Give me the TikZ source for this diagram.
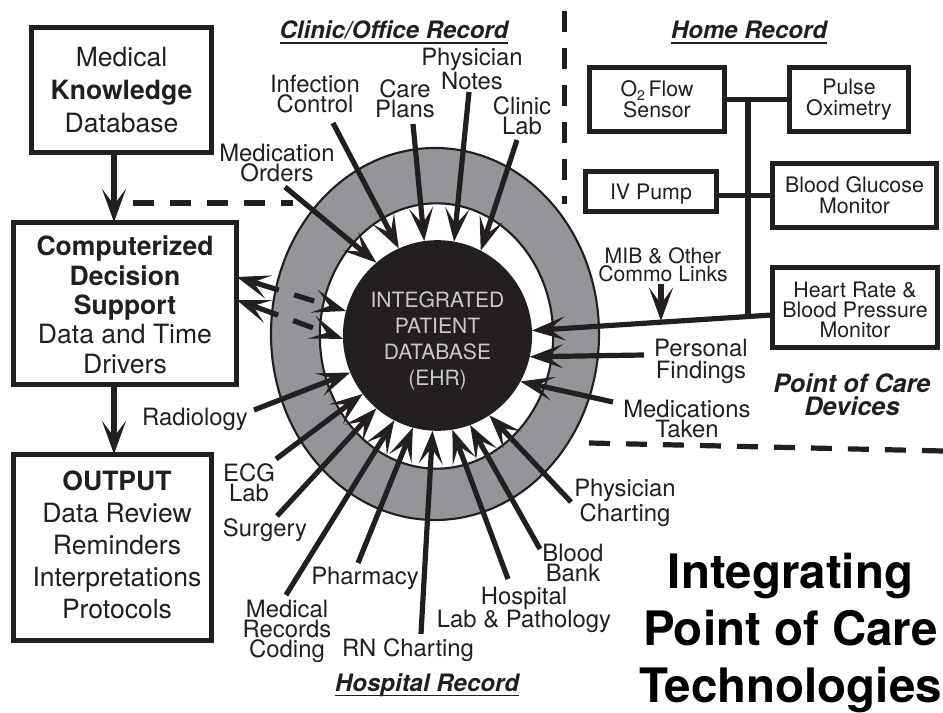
\documentclass[tikz,border=0pt]{standalone}
\usepackage{fontspec}
\setmainfont{TeX Gyre Heros}
\usetikzlibrary{arrows.meta,shapes.geometric}
\normallineskiplimit=-100pt
\definecolor{ink}{HTML}{231F20}
\definecolor{ringgrey}{HTML}{939598}
\definecolor{dbtext}{HTML}{C8C8CA}
\tikzset{
  lbl/.style={inner sep=0pt,outer sep=0pt,align=center,text=ink,font=\fontsize{17.9}{15}\selectfont},
  heading/.style={inner sep=0pt,outer sep=0pt,align=center,text=ink,font=\fontsize{18}{18}\selectfont\bfseries\itshape},
  boxbase/.style={draw=ink,line width=3.9pt,fill=white,inner sep=0pt,outer sep=0pt,align=center,text=ink},
  bigbox/.style={boxbase,font=\fontsize{19.9}{22}\selectfont},
  devbox/.style={boxbase,font=\fontsize{16}{15.8}\selectfont},
  arw/.style={draw=ink,line width=3.9pt,-{Stealth[length=25pt,width=18pt,inset=12pt]}},
  dbl/.style={draw=ink,line width=3.9pt,{Stealth[length=25pt,width=18pt,inset=12pt]}-{Stealth[length=25pt,width=18pt,inset=12pt]},dash pattern=on 22pt off 12pt on 15.75pt off 12pt on 100pt},
  wire/.style={draw=ink,line width=3.9pt},
  sep/.style={draw=ink,line width=3.9pt,dash pattern=on 15.75pt off 12pt},
  ul/.style={draw=ink,line width=1.4pt},
}
\begin{document}
\begin{tikzpicture}[x=0.75pt,y=-0.75pt]
\useasboundingbox (0,0) rectangle (943,713);
% rings and database
\node[ellipse,draw=ink,line width=1.6pt,fill=ringgrey,inner sep=0pt,minimum width=246pt,minimum height=279pt] (ring) at (435,334) {};
\node[ellipse,draw=ink,line width=1.6pt,fill=white,inner sep=0pt,minimum width=175pt,minimum height=199pt] (inner) at (436.5,336) {};
% separators
\coordinate (sepAa) at (564.7,11); \coordinate (sepAb) at (564.7,204);
\coordinate (sepBa) at (133,203); \coordinate (sepBb) at (293,203);
\coordinate (sepCa) at (589,443); \coordinate (sepCb) at (943,451);
\draw[sep] (sepAa) -- (sepAb);
\draw[sep] (sepBa) -- (sepBb);
\draw[sep] (sepCa) -- (sepCb);
% left boxes
\node[bigbox,font=\fontsize{19.9}{24.4}\selectfont,minimum width=135pt,minimum height=94pt] (know) at (121.5,90) {Medical\\\textbf{Knowledge}\\Database};
\node[bigbox,minimum width=167.5pt,minimum height=122pt] (cds) at (125,303.5) {\rule{0pt}{17pt}\textbf{Computerized}\\\textbf{Decision}\\\textbf{Support}\\Data and Time\\Drivers};
\node[boxbase,minimum width=148.5pt,minimum height=140pt] (out) at (112.5,547.5) {};
\node[inner sep=0pt,outer sep=0pt,align=center,text=ink,font=\fontsize{19.9}{24}\selectfont] (outtext) at (117,545) {\textbf{OUTPUT}\\Data Review\\Reminders\\Interpretations\\Protocols};
\coordinate (vx) at (114,0);
\draw[arw] (know.south -| vx) -- (cds.north -| vx);
\draw[arw] (cds.south -| vx) -- (out.north -| vx);
% device boxes
\node[devbox,minimum width=101.5pt,minimum height=48pt] (o2) at (657,99.5) {O\raisebox{-0.35ex}{\fontsize{10.5}{10.5}\selectfont 2}\,Flow\\Sensor};
\node[devbox,minimum width=89.5pt,minimum height=48pt] (pulse) at (849,99.5) {Pulse\\Oximetry};
\node[devbox,minimum width=123pt,minimum height=48pt] (gluc) at (854.5,195.5) {Blood Glucose\\Monitor};
\node[devbox,text depth=0pt,minimum width=98.5pt,minimum height=30pt] (iv) at (651,191.5) {IV Pump};
\node[devbox,font=\fontsize{16}{15}\selectfont,minimum width=124pt,minimum height=60pt] (heart) at (855,307.5) {\rule{0pt}{14.5pt}Heart Rate \&\\Blood Pressure\\Monitor};
\coordinate (busx) at (748,0);
\coordinate (busend) at (748,316);
\draw[wire] (o2.east) -- (pulse.west);
\draw[wire] (iv.east |- gluc.west) -- (gluc.west);
\draw[wire] (busx |- o2.east) -- (busend);
% database ellipse
\node[ellipse,fill=ink,inner sep=0pt,outer sep=0pt,minimum width=120pt,minimum height=143pt,align=center,text=dbtext,font=\fontsize{15.8}{19.5}\selectfont] (ehr) at (437.5,335.5) {\rule{0pt}{20.3pt}INTEGRATED\\PATIENT\\DATABASE\\(EHR)};
% free ends
\coordinate (eOrders) at (285,187);
\coordinate (eInfect) at (333,123);
\coordinate (eCare) at (413,124);
\coordinate (eNotes) at (469,92);
\coordinate (eClinic) at (517,140);
\coordinate (ePers) at (644,355);
\coordinate (eMeds) at (613,402);
\coordinate (eChart) at (571,502);
\coordinate (eBlood) at (540,549);
\coordinate (eHosp) at (508,579);
\coordinate (eRN) at (421,634);
\coordinate (ePharm) at (358,563);
\coordinate (eCoding) at (286,595);
\coordinate (eSurg) at (277,516);
\coordinate (eECG) at (276,459);
\coordinate (eRad) at (254,410);
\coordinate (eMIB) at (661,284);
\coordinate (tMIB) at (661,321);
\draw[arw] (eOrders) -- (ehr.130);
\draw[arw] (eInfect) -- (ehr.114.8);
\draw[arw] (eCare) -- (ehr.98.5);
\draw[arw] (eNotes) -- (ehr.80.3);
\draw[arw] (eClinic) -- (ehr.63.6);
\draw[arw] ([yshift=-5.6pt]heart.west) -- (ehr.3.2);
\draw[arw] (ePers) -- (ehr.-13.6);
\draw[arw] (eMeds) -- (ehr.-29.4);
\draw[arw] (eChart) -- (ehr.-57.8);
\draw[arw] (eBlood) -- (ehr.-70.8);
\draw[arw] (eHosp) -- (ehr.-81.3);
\draw[arw] (eRN) -- (ehr.-93.9);
\draw[arw] (ePharm) -- (ehr.-105.4);
\draw[arw] (eCoding) -- (ehr.-117.5);
\draw[arw] (eSurg) -- (ehr.-130);
\draw[arw] (eECG) -- (ehr.-142.9);
\draw[arw] (eRad) -- (ehr.-157.9);
\draw[arw] (eMIB) -- (tMIB);
\coordinate (cdsA) at (cds.east |- 0,277);
\coordinate (cdsB) at (cds.east |- 0,300);
\draw[dbl] (cdsA) -- (ehr.165.9);
\draw[dbl] (cdsB) -- (ehr.182.5);
% headings
\node[heading] (hClinic) at (394,30) {Clinic/Office Record};
\node[heading] (hHome) at (749,30) {Home Record};
\node[heading] (hHosp) at (427,685) {Hospital Record};
\draw[ul] ([yshift=-3.2pt]hClinic.base west) -- ([yshift=-3.2pt]hClinic.base east);
\draw[ul] ([yshift=-3.2pt]hHome.base west) -- ([yshift=-3.2pt]hHome.base east);
\draw[ul] ([yshift=-3.2pt]hHosp.base west) -- ([yshift=-3.2pt]hHosp.base east);
\node[heading,font=\fontsize{19}{17.3}\selectfont\bfseries\itshape] (poc) at (852,395) {Point of Care\\Devices};
% labels
\node[lbl] (lNotes) at (472,69) {Physician\\Notes};
\node[lbl] (lInfect) at (315,94) {Infection\\Control};
\node[lbl] (lCare) at (405,99) {Care\\Plans};
\node[lbl] (lClinic) at (522,116) {Clinic\\Lab};
\node[lbl] (lOrders) at (277,163) {Medication\\Orders};
\node[lbl] (lRad) at (195,419) {Radiology};
\node[lbl] (lECG) at (249,483) {ECG\\Lab};
\node[lbl] (lSurg) at (265,530) {Surgery};
\node[lbl] (lPharm) at (365,578) {Pharmacy};
\node[lbl] (lCoding) at (287,631) {Medical\\Records\\Coding};
\node[lbl] (lRN) at (408,650) {RN Charting};
\node[lbl,font=\fontsize{17.9}{17}\selectfont] (lHosp) at (524,610) {Hospital\\Lab \& Pathology};
\node[lbl] (lBlood) at (573,563) {Blood\\Bank};
\node[lbl] (lChart) at (625,503) {Physician\\Charting};
\node[lbl] (lMeds) at (687,419) {Medications\\Taken};
\node[lbl,font=\fontsize{17.9}{16.5}\selectfont] (lPers) at (701,361) {Personal\\Findings};
\node[inner sep=0pt,outer sep=0pt,align=center,text=ink,font=\fontsize{15.9}{13.5}\selectfont] (lMIB) at (663,265) {MIB \& Other\\Commo Links};
% title
\node[inner sep=0pt,outer sep=0pt,align=center,text=black,font=\fontsize{35.6}{43}\selectfont\bfseries] (title) at (790.5,633) {Integrating\\Point of Care\\Technologies};
\end{tikzpicture}
\end{document}
